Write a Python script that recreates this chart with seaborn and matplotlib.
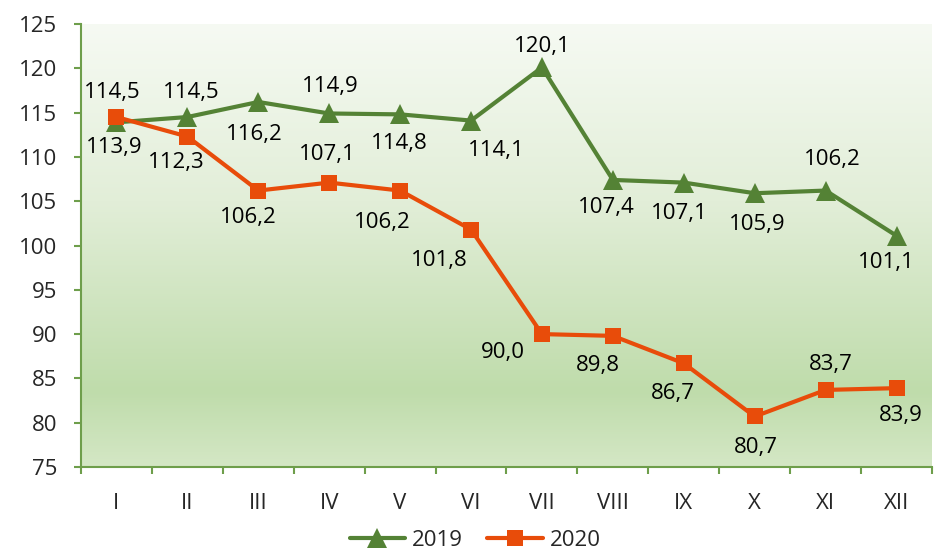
import numpy as np
import pandas as pd
import matplotlib
matplotlib.use("Agg")
import matplotlib.pyplot as plt
from matplotlib.lines import Line2D
from matplotlib.colors import LinearSegmentedColormap
import seaborn as sns

# ---- data ----
months = ["I", "II", "III", "IV", "V", "VI", "VII", "VIII", "IX", "X", "XI", "XII"]
values_2019 = [113.9, 114.5, 116.2, 114.9, 114.8, 114.1, 120.1, 107.4, 107.1, 105.9, 106.2, 101.1]
values_2020 = [114.5, 112.3, 106.2, 107.1, 106.2, 101.8, 90.0, 89.8, 86.7, 80.7, 83.7, 83.9]
series_names = ["2019", "2020"]
y_ticks = [75, 80, 85, 90, 95, 100, 105, 110, 115, 120, 125]

# ---- label offsets (pixels: dx right, dy down) ----
off_2019 = [(-2, 25), (4, -25), (-4, 33), (1, -27), (-1, 29), (25, 30),
            (0, -21), (-7, 28), (-4, 31), (3, 31), (7, -31), (-10, 27)]
off_2020 = [(-4, -25), (-11, 26), (-10, 27), (-2, -28), (-18, 32), (-32, 31),
            (-39, 18), (-15, 30), (-11, 30), (1, 31), (5, -25), (4, 27)]

GREEN = "#548235"
ORANGE = "#E84C0A"
SPINE = "#6E9E4B"
FS = 16

sns.set_theme(style="white")
plt.rcParams["font.family"] = ["Open Sans", "DejaVu Sans"]

fig = plt.figure(figsize=(9.34, 5.51), dpi=100)
ax = fig.add_axes([81 / 934, 84 / 551, (932 - 81) / 934, (467 - 24) / 551])

# gradient background (row 0 = top)
cmap = LinearSegmentedColormap.from_list(
    "bg",
    [(0.0, (246/255, 250/255, 243/255)),
     (0.4, (226/255, 238/255, 216/255)),
     (0.83, (191/255, 220/255, 171/255)),
     (1.0, (212/255, 231/255, 197/255))])
grad = np.linspace(0, 1, 256).reshape(-1, 1)
ax.imshow(grad, aspect="auto", cmap=cmap, extent=[0, 1, 0, 1], origin="upper",
          transform=ax.transAxes, zorder=0, interpolation="bicubic")

pos = list(range(len(months)))
df19 = pd.DataFrame({"pos": pos, "value": values_2019})
df20 = pd.DataFrame({"pos": pos, "value": values_2020})

sns.lineplot(data=df19, x="pos", y="value", color=GREEN, lw=3, marker="^",
             markersize=14, markeredgewidth=0, ax=ax, zorder=3, clip_on=False)
sns.lineplot(data=df20, x="pos", y="value", color=ORANGE, lw=3, marker="s",
             markersize=11, markeredgewidth=0, ax=ax, zorder=4, clip_on=False)

def fmt(v):
    return f"{v:.1f}".replace(".", ",")

for vals, offs in ((values_2019, off_2019), (values_2020, off_2020)):
    for p, v, (dx, dy) in zip(pos, vals, offs):
        ax.annotate(fmt(v), (p, v), xytext=(dx, -dy), textcoords="offset pixels",
                    ha="center", va="center", fontsize=FS, color="black", zorder=5)

ax.set_xlim(-0.5, len(months) - 0.5)
ax.set_ylim(y_ticks[0], y_ticks[-1])
ax.set_yticks(y_ticks)
ax.set_xticks(pos)
ax.set_xticklabels(months)
ax.set_xticks(np.arange(-0.5, len(months), 1.0), minor=True)
ax.set_xlabel("")
ax.set_ylabel("")

for s in ("top", "right"):
    ax.spines[s].set_visible(False)
for s in ("left", "bottom"):
    ax.spines[s].set_color(SPINE)
    ax.spines[s].set_linewidth(1.5)

ax.tick_params(axis="y", which="major", direction="out", length=5, width=1.5,
               color=SPINE, labelsize=FS, pad=12, left=True)
ax.tick_params(axis="x", which="major", length=0, labelsize=FS, pad=19)
ax.tick_params(axis="x", which="minor", direction="out", length=5, width=1.5,
               color=SPINE, bottom=True)
ax.grid(False)

handles = [
    Line2D([], [], color=GREEN, lw=3, marker="^", markersize=14, markeredgewidth=0),
    Line2D([], [], color=ORANGE, lw=3, marker="s", markersize=11, markeredgewidth=0),
]
fig.legend(handles, series_names, loc="center", bbox_to_anchor=(475 / 934, 1 - 540 / 551),
           ncol=2, frameon=False, fontsize=FS, handlelength=2.5, handletextpad=0.3,
           columnspacing=1.1)

fig.savefig("out.png", dpi=100)
